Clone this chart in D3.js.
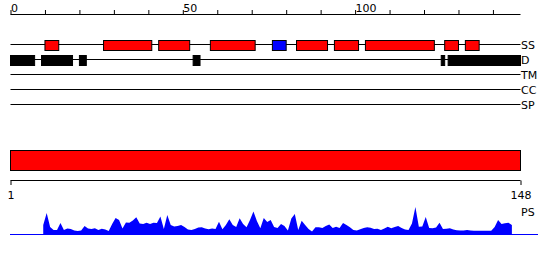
<!DOCTYPE html>
<html>
<head>
<meta charset="utf-8">
<script src="https://cdn.jsdelivr.net/npm/d3@7"></script>
<style>
  body { margin: 0; background: #fff; }
  text { font-family: "DejaVu Sans", sans-serif; font-size: 11px; fill: #000; }
</style>
</head>
<body>
<script>
// ----- DATA -----
const topTicks = [0, 10, 20, 30, 40, 50, 60, 70, 80, 90, 100, 110, 120, 130, 140];
const topTickLabels = [0, 50, 100];
const bottomTickLabels = [1, 148];
const trackNames = ["SS", "D", "TM", "CC", "SP"];

// secondary structure: H = helix (red), E = strand (blue)
const ssStart = [10, 27, 43, 58, 76, 83, 94, 103, 126, 132];
const ssEnd   = [14, 41, 52, 71, 80, 92, 101, 123, 130, 136];
const ssType  = ["H", "H", "H", "H", "E", "H", "H", "H", "H", "H"];

// disordered regions
const disStart = [0, 9, 20, 53, 125, 127];
const disEnd   = [7, 18, 22, 55, 126, 148];

// domain bar
const domainStart = [1];
const domainEnd = [148];

// PS score per residue, residues 10..146
const psFirst = 10;
const psScores = [
  10, 22, 8, 5, 5, 12, 5, 6.5, 6, 4.5,            // 10-19
  4, 4.5, 9, 6.5, 6, 6.7, 5, 6.3, 5.5, 4,         // 20-29
  11, 17, 15, 6.5, 12.5, 12.3, 14.5, 17.7, 11.5, 11, // 30-39
  12.3, 11, 12.3, 12, 18.5, 6, 20, 10, 8.5, 9,    // 40-49
  10, 8, 5.5, 5, 6, 7.5, 7.7, 6.5, 5.7, 6.5,      // 50-59
  6, 13.3, 5.7, 10, 15.7, 10, 8, 16.7, 11, 7.7,   // 60-69
  15, 23.5, 14, 6.7, 17, 13, 15, 8, 7, 11,        // 70-79
  9, 4.5, 16.5, 21, 5, 14.3, 10, 6, 3.5, 7.7,     // 80-89
  7.7, 7, 9, 10.5, 7, 8.3, 7, 12, 10, 7.7,        // 90-99
  5, 4.5, 5.7, 7, 7.7, 7.3, 6, 6.3, 5, 6.5,       // 100-109
  8.3, 6.7, 8, 9, 7, 5.5, 5, 11.5, 28, 8.3,       // 110-119
  8.5, 18, 7, 6.7, 7.5, 12.3, 6, 6.3, 6.7, 5.5,   // 120-129
  4.8, 4.5, 4.5, 5, 4.6, 4.3, 4.3, 4.2, 4.3, 4.3, // 130-139
  4.3, 8, 15, 11, 11.7, 12.3, 10                  // 140-146
];

const w = 550;
const h = 260;

// ----- SCALES -----
const xScale = d3.scaleLinear().domain([0, 148]).range([10.5, 520.5]);
const xBottom = d3.scaleLinear().domain([1, 148]).range([10.5, 520.5]);
const trackY = d3.scalePoint().domain(trackNames).range([44.5, 104.5]);
const psY = d3.scaleLinear().domain([0, 30]).range([235, 205]);

const svg = d3.select("body").
append("svg").
attr("width", w).
attr("height", h);

// ----- TOP AXIS -----
const topAxis = d3.axisTop(xScale).
tickValues(topTicks).
tickSize(4).
tickSizeOuter(0).
tickFormat(d => topTickLabels.includes(d) ? d : "");

const gTop = svg.append("g").
attr("transform", "translate(0,14)").
call(topAxis);
gTop.selectAll("text").
attr("text-anchor", "start").
attr("dy", "0.1em").
attr("y", -3);
gTop.select(".domain").attr("d", "M" + xScale.range()[0] + ",0.5H" + xScale.range()[1]);
gTop.selectAll(".tick line").attr("y1", 0.5);
gTop.selectAll("text").style("font-size", "11px").style("font-family", "DejaVu Sans");

// ----- TRACK LINES -----
svg.selectAll("line.track").
data(trackNames).
enter().
append("line").
attr("class", "track").
attr("x1", xScale(0)).
attr("x2", xScale(148)).
attr("y1", d => trackY(d)).
attr("y2", d => trackY(d)).
attr("stroke", "#000");

svg.selectAll("text.track").
data(trackNames).
enter().
append("text").
attr("class", "track").
attr("x", xScale(148) + 0.5).
attr("y", d => trackY(d) + 0.5).
attr("dy", "0.35em").
text(d => d);

// ----- SS BOXES -----
svg.selectAll("rect.ss").
data(ssStart).
enter().
append("rect").
attr("class", "ss").
attr("x", (d, i) => xScale(ssStart[i])).
attr("width", (d, i) => xScale(ssEnd[i]) - xScale(ssStart[i])).
attr("y", trackY("SS") - 4).
attr("height", 10).
attr("fill", (d, i) => ssType[i] === "H" ? "#ff0000" : "#0000ff").
attr("stroke", "#000");

// ----- DISORDER BOXES -----
svg.selectAll("rect.dis").
data(disStart).
enter().
append("rect").
attr("class", "dis").
attr("x", (d, i) => xScale(disStart[i])).
attr("width", (d, i) => xScale(disEnd[i]) - xScale(disStart[i])).
attr("y", trackY("D") - 4).
attr("height", 10).
attr("fill", "#000").
attr("stroke", "#000");

// ----- DOMAIN BAR -----
svg.selectAll("rect.domain").
data(domainStart).
enter().
append("rect").
attr("class", "domain").
attr("x", (d, i) => xBottom(domainStart[i])).
attr("width", (d, i) => xBottom(domainEnd[i]) - xBottom(domainStart[i])).
attr("y", 150.5).
attr("height", 20).
attr("fill", "#ff0000").
attr("stroke", "#000");

// ----- BOTTOM AXIS -----
const bottomAxis = d3.axisBottom(xBottom).
tickValues(bottomTickLabels).
tickSize(5).
tickSizeOuter(0);

const gBottom = svg.append("g").
attr("transform", "translate(0,180)").
call(bottomAxis);
gBottom.select(".domain").attr("d", "M" + xBottom.range()[0] + ",0.5H" + xBottom.range()[1]);
gBottom.selectAll(".tick line").attr("y1", 0.5);
gBottom.selectAll("text").attr("y", 11).style("font-size", "11px").style("font-family", "DejaVu Sans");

// ----- PS PROFILE -----
const psData = psScores.map((v, i) => ({ res: psFirst + i, v: v }));

svg.append("line").
attr("x1", 10).
attr("x2", 538).
attr("y1", psY(0) - 0.5).
attr("y2", psY(0) - 0.5).
attr("stroke", "#0000ff");

const area = d3.area().
x(d => xScale(d.res - 0.5)).
y0(psY(0)).
y1(d => psY(d.v));

svg.append("path").
datum(psData).
attr("d", area).
attr("fill", "#0000ff");

svg.append("text").
attr("x", xScale(148) + 0.5).
attr("y", 216).
text("PS");
</script>
</body>
</html>
